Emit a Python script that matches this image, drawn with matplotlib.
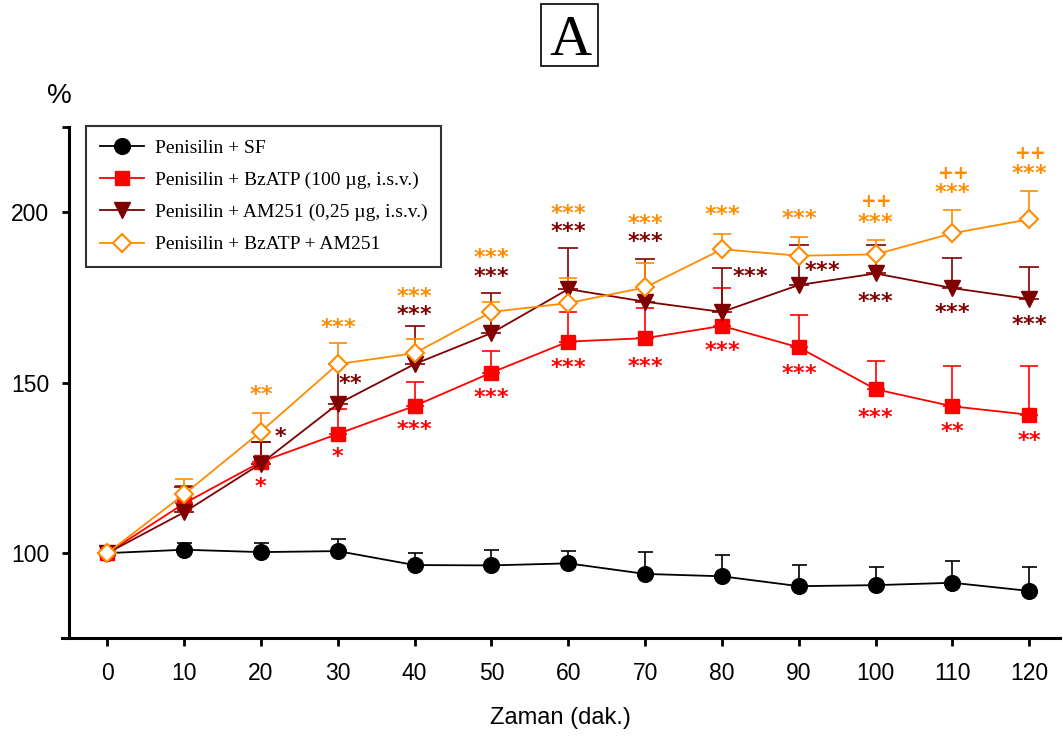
import numpy as np
import matplotlib
matplotlib.use('Agg')
import matplotlib.pyplot as plt
from matplotlib.patches import Rectangle

# Zaman (dakika)
zaman = [0, 10, 20, 30, 40, 50, 60, 70, 80, 90, 100, 110, 120]

# Penisilin + SF
sf_ort = [100, 101.0, 100.3, 100.6, 96.5, 96.4, 97.0, 93.9, 93.2, 90.3, 90.6, 91.3, 88.9]
sf_hata = [0, 2.0, 2.6, 3.6, 3.4, 4.5, 3.5, 6.5, 6.2, 6.3, 5.2, 6.3, 7.1]

# Penisilin + BzATP
bz_ort = [100, 114.6, 126.8, 135.0, 143.2, 153.0, 162.1, 163.1, 166.7, 160.4, 148.1, 143.1, 140.6]
bz_hata = [0, 5.2, 5.7, 7.3, 7.1, 6.4, 8.8, 8.9, 11.0, 9.6, 8.4, 11.9, 14.2]

# Penisilin + AM251
am_ort = [100, 112.0, 126.3, 143.8, 155.5, 164.6, 177.5, 173.8, 170.8, 178.7, 182.1, 177.8, 174.6]
am_hata = [0, 7.5, 6.2, 11.7, 11.2, 11.7, 12.2, 12.5, 12.9, 11.7, 8.3, 8.8, 9.3]

# Penisilin + BzATP + AM251
bzam_ort = [100, 117.3, 135.7, 155.5, 158.7, 170.8, 173.4, 178.0, 189.2, 187.3, 187.7, 193.9, 198.0]
bzam_hata = [0, 4.6, 5.4, 6.1, 4.1, 2.8, 7.3, 7.1, 4.6, 5.4, 4.2, 6.9, 8.2]

etiketler = ['Penisilin + SF',
             'Penisilin + BzATP (100 µg, i.s.v.)',
             'Penisilin + AM251 (0,25 µg, i.s.v.)',
             'Penisilin + BzATP + AM251']

# anlamlilik isaretleri (metin, x, y)
bz_isaret = ['*', '*', '***', '***', '***', '***', '***', '***', '***', '**', '**']
bz_isaret_x = [20, 30, 40, 50, 60, 70, 80, 90, 100, 110, 120]
bz_isaret_y = [120.0, 128.8, 136.6, 146.2, 155.0, 155.2, 159.9, 153.2, 140.3, 136.2, 133.5]

am_isaret = ['*', '**', '***', '***', '***', '***', '***', '***', '***', '***', '***']
am_isaret_x = [22.6, 31.7, 40, 50, 60, 70, 83.7, 93.1, 100, 110, 120]
am_isaret_y = [134.6, 150.1, 170.6, 181.7, 194.9, 192.0, 181.7, 183.4, 174.3, 171.1, 167.7]

bzam_isaret = ['**', '***', '***', '***', '***', '***', '***', '***', '***', '***', '***']
bzam_isaret_x = [20, 30, 40, 50, 60, 70, 80, 90, 100, 110, 120]
bzam_isaret_y = [147.0, 166.7, 175.7, 187.1, 200.0, 197.1, 199.7, 198.8, 197.5, 206.3, 211.9]

arti_isaret_x = [100, 110, 120]
arti_isaret_y = [203.1, 211.5, 217.3]

renkler = ['black', '#ff0000', '#7f0000', '#ff8c00']

W, H = 1063, 738
fig = plt.figure(figsize=(W / 100, H / 100), dpi=100)
ax = fig.add_axes([62 / W, (H - 638.3) / H, (1060 - 62) / W, (638.3 - 127.3) / H])

seriler = [(sf_ort, sf_hata), (bz_ort, bz_hata), (am_ort, am_hata), (bzam_ort, bzam_hata)]
markerlar = [dict(marker='o', ms=11.3, mfc='black', mec='black'),
             dict(marker='s', ms=10.5, mfc='#ff0000', mec='#ff0000'),
             dict(marker='v', ms=11.5, mfc='#7f0000', mec='#7f0000'),
             dict(marker='D', ms=9.2, mfc='white', mec='#ff8c00', mew=1.5)]
kapak = [5.4, 6.8, 7.2, 6.5]

# hata cubuklari (sadece yukari)
for i, (ort, hata) in enumerate(seriler):
    alt = np.zeros(len(hata))
    ax.errorbar(zaman, ort, yerr=[alt, hata], fmt='none', ecolor=renkler[i],
                elinewidth=1.2, capsize=kapak[i], capthick=1.2, zorder=2)

for i, (ort, hata) in enumerate(seriler):
    ax.plot(zaman, ort, color=renkler[i], lw=1.3, label=etiketler[i],
            zorder=3 + i, **markerlar[i])


def isaret(x, y, metin, renk, fs=16):
    # mathtext: kutu glif boyutunda kalir
    ax.text(x, y, r'$\mathbf{' + ''.join('{' + c + '}' for c in metin) + '}$',
            ha='center', va='center', fontsize=fs, color=renk, zorder=10, clip_on=False)


for x, y, m in zip(bz_isaret_x, bz_isaret_y, bz_isaret):
    isaret(x, y, m, renkler[1])
for x, y, m in zip(am_isaret_x, am_isaret_y, am_isaret):
    isaret(x, y, m, renkler[2])
for x, y, m in zip(bzam_isaret_x, bzam_isaret_y, bzam_isaret):
    isaret(x, y, m, renkler[3])
for x, y in zip(arti_isaret_x, arti_isaret_y):
    isaret(x, y, '++', renkler[3], fs=13.5)

ax.set_xlim(-5.9, 124)
ax.set_ylim(75, 225)
ax.spines['left'].set_position(('data', -5.0))
ax.spines['top'].set_visible(False)
ax.spines['right'].set_visible(False)
for s in ['left', 'bottom']:
    ax.spines[s].set_linewidth(2.2)

ax.set_xticks(zaman)
ax.set_xticklabels([str(z) for z in zaman])
ax.set_yticks([100, 150, 200, 225])
ax.set_yticklabels(['100', '150', '200', ''])
ax.tick_params(axis='x', direction='out', length=6, width=2, pad=11)
ax.tick_params(axis='y', direction='out', length=5, width=2, pad=9)
for lab in ax.get_xticklabels() + ax.get_yticklabels():
    lab.set_family('Liberation Sans')
    lab.set_fontsize(16.5)

fig.text(560 / W, 1 - 718 / H, 'Zaman (dak.)', ha='center', va='center',
         fontsize=17, family='Liberation Sans')
fig.text(59.5 / W, 1 - 96 / H, '%', ha='center', va='center',
         fontsize=20, family='Liberation Sans')

# baslik kutusu
fig.patches.append(Rectangle((541 / W, 1 - 66 / H), 57 / W, 62 / H, transform=fig.transFigure,
                             fill=False, edgecolor='black', lw=1.2))
fig.text(570 / W, 1 - 55 / H, 'A', ha='center', va='baseline', fontsize=42,
         family='Liberation Serif')

leg = ax.legend(loc='upper left', bbox_to_anchor=(86 / W, 1 - 126 / H),
                bbox_transform=fig.transFigure, prop={'family': 'Liberation Serif', 'size': 14},
                frameon=True, fancybox=False, edgecolor='black', borderpad=0.7,
                handlelength=2.3, handletextpad=0.53, labelspacing=0.74, borderaxespad=0)
leg.get_frame().set_linewidth(1.5)

fig.savefig('out.png', dpi=100)
